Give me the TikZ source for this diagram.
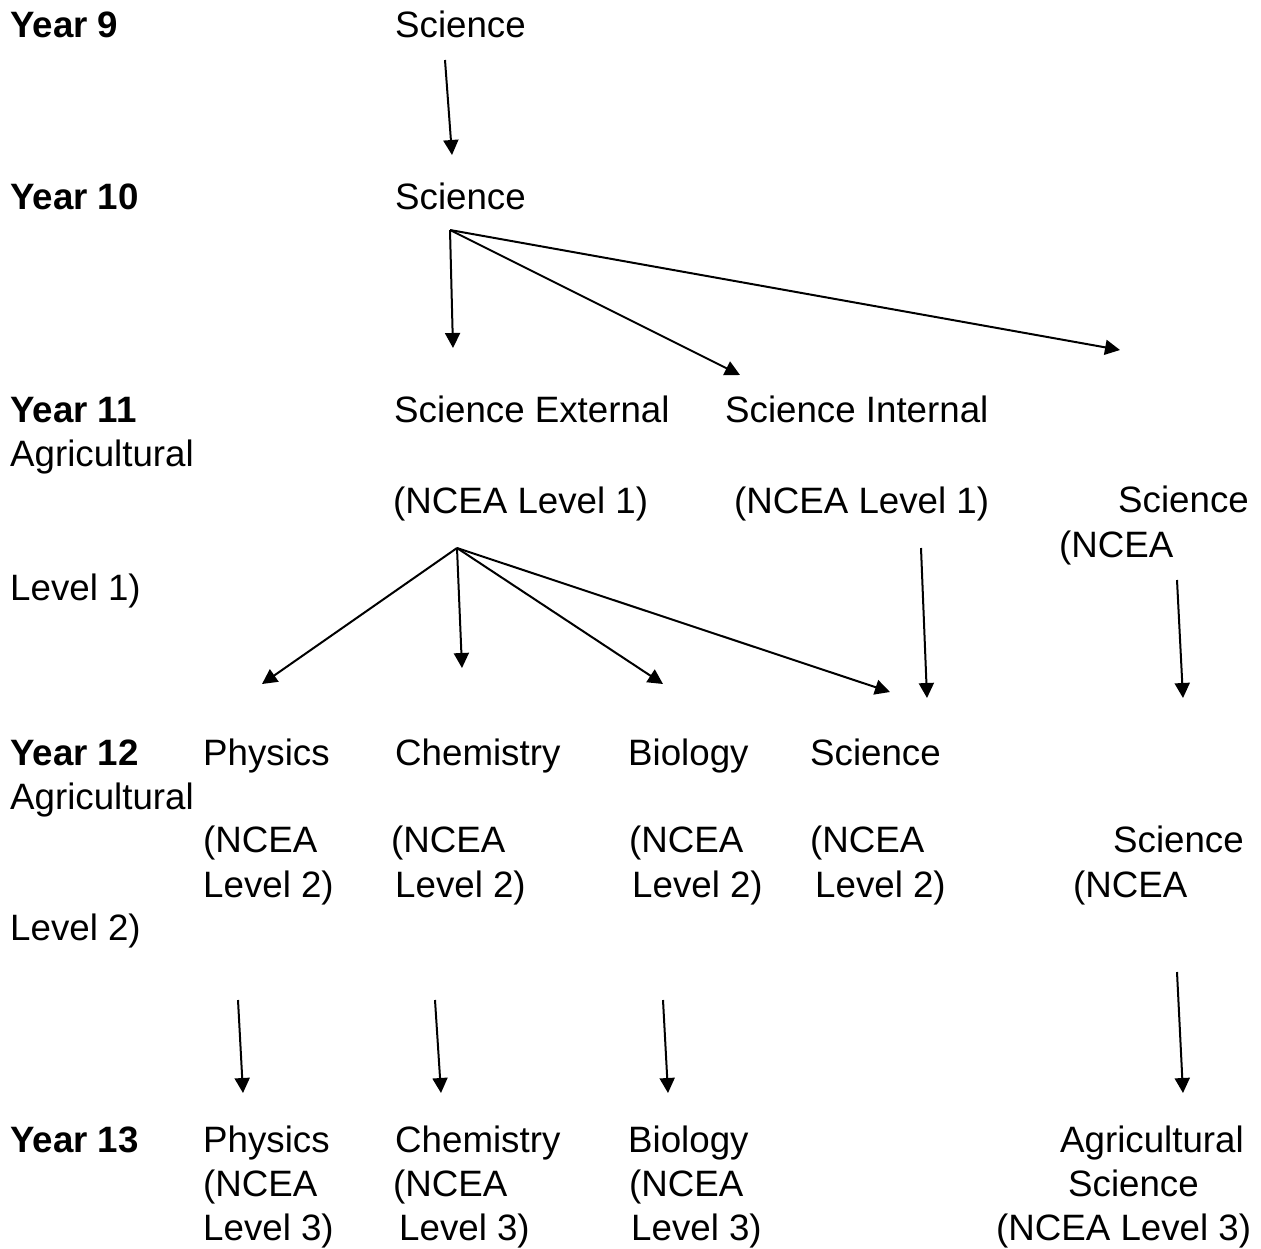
\documentclass[tikz,border=0pt]{standalone}
\usepackage{fontspec}
\setmainfont{Liberation Sans}
\usetikzlibrary{arrows.meta}
\begin{document}
\begin{tikzpicture}[x=1pt,y=-1pt,
  lbl/.style={anchor=base west,inner sep=0pt,font=\fontsize{36.7}{44}\selectfont},
  yr/.style={lbl,font=\fontsize{36.7}{44}\selectfont\bfseries},
  arr/.style={line width=2pt,-{Triangle[length=15pt,width=15pt]}}]
\useasboundingbox (0,0) rectangle (1261,1248);
% Year labels
\node[yr] (y9) at (10,37) {Year 9};
\node[yr] (y10) at (10,209) {Year 10};
\node[yr] (y11) at (10,422) {Year 11};
\node[yr] (y12) at (10,765) {Year 12};
\node[yr] (y13) at (10,1152) {Year 13};
% Year 9/10
\node[lbl] (sci9) at (395,37) {Science};
\node[lbl] (sci10) at (395,209) {Science};
% Year 11
\node[lbl] (sciext) at (394,422) {Science External};
\node[lbl] (sciint) at (725,422) {Science Internal};
\node[lbl] (agr11a) at (10,466) {Agricultural};
\node[lbl] (ncea1a) at (393,513) {(NCEA Level 1)};
\node[lbl] (ncea1b) at (734,513) {(NCEA Level 1)};
\node[lbl] (agr11b) at (1118,512) {Science};
\node[lbl] (agr11c) at (1059,557) {(NCEA};
\node[lbl] (agr11d) at (10,600) {Level 1)};
% Year 12
\node[lbl] (phy12) at (203,765) {Physics};
\node[lbl] (che12) at (395,765) {Chemistry};
\node[lbl] (bio12) at (628,765) {Biology};
\node[lbl] (sci12) at (810,765) {Science};
\node[lbl] (agr12a) at (10,809) {Agricultural};
\node[lbl] (phy12b) at (203,852) {(NCEA};
\node[lbl] (che12b) at (391,852) {(NCEA};
\node[lbl] (bio12b) at (629,852) {(NCEA};
\node[lbl] (sci12b) at (810,852) {(NCEA};
\node[lbl] (agr12b) at (1113,852) {Science};
\node[lbl] (phy12c) at (203,897) {Level 2)};
\node[lbl] (che12c) at (395,897) {Level 2)};
\node[lbl] (bio12c) at (632,897) {Level 2)};
\node[lbl] (sci12c) at (815,897) {Level 2)};
\node[lbl] (agr12c) at (1073,897) {(NCEA};
\node[lbl] (agr12d) at (10,940) {Level 2)};
% Year 13
\node[lbl] (phy13) at (203,1152) {Physics};
\node[lbl] (che13) at (395,1152) {Chemistry};
\node[lbl] (bio13) at (628,1152) {Biology};
\node[lbl] (agr13) at (1060,1152) {Agricultural};
\node[lbl] (phy13b) at (203,1196) {(NCEA};
\node[lbl] (che13b) at (393,1196) {(NCEA};
\node[lbl] (bio13b) at (629,1196) {(NCEA};
\node[lbl] (agr13b) at (1068,1196) {Science};
\node[lbl] (phy13c) at (203,1240) {Level 3)};
\node[lbl] (che13c) at (399,1240) {Level 3)};
\node[lbl] (bio13c) at (631,1240) {Level 3)};
\node[lbl] (agr13c) at (996,1240) {(NCEA Level 3)};
% connector coordinates
\coordinate (a9s) at (445,60);   \coordinate (a9e) at (452,155);
\coordinate (a10s) at (450,230);
\coordinate (a10e1) at (453,348); \coordinate (a10e2) at (740,375); \coordinate (a10e3) at (1120,350);
\coordinate (a11s) at (457,548);
\coordinate (a11e1) at (262,684); \coordinate (a11e2) at (462,668);
\coordinate (a11e3) at (663,684); \coordinate (a11e4) at (890,692);
\coordinate (aIs) at (921,548);  \coordinate (aIe) at (927,698);
\coordinate (aAs) at (1177,580); \coordinate (aAe) at (1183,698);
\coordinate (aPs) at (238,1000); \coordinate (aPe) at (243,1093);
\coordinate (aCs) at (435,1000); \coordinate (aCe) at (441,1093);
\coordinate (aBs) at (663,1000); \coordinate (aBe) at (668,1093);
\coordinate (aGs) at (1177,972); \coordinate (aGe) at (1183,1093);
% connectors
\draw[arr] (a9s) -- (a9e);
\draw[arr] (a10s) -- (a10e1);
\draw[arr] (a10s) -- (a10e2);
\draw[arr] (a10s) -- (a10e3);
\draw[arr] (a11s) -- (a11e1);
\draw[arr] (a11s) -- (a11e2);
\draw[arr] (a11s) -- (a11e3);
\draw[arr] (a11s) -- (a11e4);
\draw[arr] (aIs) -- (aIe);
\draw[arr] (aAs) -- (aAe);
\draw[arr] (aPs) -- (aPe);
\draw[arr] (aCs) -- (aCe);
\draw[arr] (aBs) -- (aBe);
\draw[arr] (aGs) -- (aGe);
\end{tikzpicture}
\end{document}
